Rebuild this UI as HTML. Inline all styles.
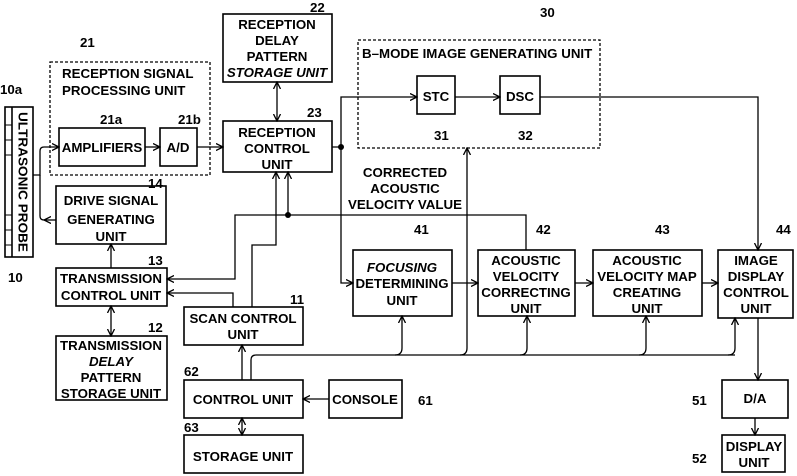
<!DOCTYPE html>
<html><head><style>body{margin:0;background:#fff}svg{display:block}text{font-family:"Liberation Sans",sans-serif;font-weight:bold;font-size:13.3px;fill:#000}</style></head><body>
<svg width="797" height="476" viewBox="0 0 797 476" xmlns="http://www.w3.org/2000/svg">
<defs><marker id="a" markerWidth="8" markerHeight="8" refX="7" refY="4" orient="auto-start-reverse" markerUnits="userSpaceOnUse"><path d="M0,0.5 L7,4 L0,7.5" fill="none" stroke="#000" stroke-width="1.3"/></marker></defs>
<g fill="none" stroke="#000" stroke-width="1.6">
<rect x="5" y="107" width="28" height="150"/><line x1="12" y1="107" x2="12" y2="257"/>
<g stroke-width="1"><line x1="5" y1="125" x2="12" y2="125"/><line x1="5" y1="140" x2="12" y2="140"/><line x1="5" y1="155" x2="12" y2="155"/><line x1="5" y1="215" x2="12" y2="215"/><line x1="5" y1="230" x2="12" y2="230"/><line x1="5" y1="245" x2="12" y2="245"/></g>
<rect x="50" y="62" width="160" height="113" stroke-dasharray="3,2" stroke-width="1.3"/>
<rect x="358" y="40" width="242" height="108" stroke-dasharray="3,2" stroke-width="1.3"/>
<rect x="59" y="128" width="86" height="38"/><rect x="160" y="128" width="37" height="38"/>
<rect x="223" y="14" width="109" height="68"/><rect x="223" y="121" width="109" height="51"/>
<rect x="56" y="186" width="110" height="58"/><rect x="56" y="268" width="111" height="38"/>
<rect x="56" y="336" width="111" height="64"/><rect x="184" y="307" width="119" height="38"/>
<rect x="184" y="380" width="119" height="38"/><rect x="184" y="435" width="119" height="38"/>
<rect x="329" y="380" width="73" height="38"/>
<rect x="417" y="76" width="38" height="38"/><rect x="500" y="76" width="40" height="38"/>
<rect x="353" y="250" width="99" height="66"/><rect x="478" y="250" width="97" height="66"/>
<rect x="593" y="250" width="109" height="66"/><rect x="718" y="250" width="75" height="68"/>
<rect x="722" y="380" width="66" height="38"/><rect x="722" y="435" width="63" height="37"/>
<g stroke-width="1.3">
<path d="M33,175 H40 V151 Q40,147 44,147 H59" marker-end="url(#a)"/>
<path d="M40,175 V216 Q40,220 44,220"/>
<line x1="56" y1="220" x2="44" y2="220" marker-end="url(#a)"/>
<line x1="145" y1="147" x2="160" y2="147" marker-end="url(#a)"/>
<line x1="197" y1="147" x2="223" y2="147" marker-end="url(#a)"/>
<line x1="277" y1="82" x2="277" y2="121" marker-start="url(#a)" marker-end="url(#a)"/>
<path d="M332,147 H341 V97 H417" marker-end="url(#a)"/>
<path d="M341,147 V283 H353" marker-end="url(#a)"/>
<line x1="455" y1="97" x2="500" y2="97" marker-end="url(#a)"/>
<path d="M540,97 H758 V250" marker-end="url(#a)"/>
<path d="M526,250 V215 H235 V279 H167" marker-end="url(#a)"/>
<line x1="288" y1="215" x2="288" y2="172" marker-end="url(#a)"/>
<path d="M252,307 V245 H276 V172" marker-end="url(#a)"/>
<path d="M233,307 V293 H167" marker-end="url(#a)"/>
<line x1="111" y1="268" x2="111" y2="244" marker-end="url(#a)"/>
<line x1="111" y1="306" x2="111" y2="336" marker-start="url(#a)" marker-end="url(#a)"/>
<line x1="242" y1="380" x2="242" y2="345" marker-end="url(#a)"/>
<path d="M251,380 V360 Q251,355 256,355 H735"/>
<path d="M395,355 Q402,355 402,348 V316" marker-end="url(#a)"/>
<path d="M460,355 Q467,355 467,348 V148" marker-end="url(#a)"/>
<path d="M520,355 Q527,355 527,348 V316" marker-end="url(#a)"/>
<path d="M639,355 Q646,355 646,348 V316" marker-end="url(#a)"/>
<path d="M728,355 Q735,355 735,348 V318" marker-end="url(#a)"/>
<line x1="329" y1="399" x2="303" y2="399" marker-end="url(#a)"/>
<line x1="242" y1="418" x2="242" y2="435" marker-start="url(#a)" marker-end="url(#a)"/>
<line x1="452" y1="283" x2="478" y2="283" marker-end="url(#a)"/>
<line x1="575" y1="283" x2="593" y2="283" marker-end="url(#a)"/>
<line x1="702" y1="283" x2="718" y2="283" marker-end="url(#a)"/>
<line x1="758" y1="318" x2="758" y2="380" marker-end="url(#a)"/>
<line x1="755" y1="418" x2="755" y2="435" marker-end="url(#a)"/>
</g></g>
<circle cx="341" cy="147" r="3"/><circle cx="288" cy="215" r="3"/>
<text x="22" y="182" text-anchor="middle" dominant-baseline="middle" transform="rotate(90 22 182)" font-size="14" textLength="140" lengthAdjust="spacingAndGlyphs">ULTRASONIC PROBE</text>
<text x="0" y="94">10a</text><text x="8" y="282">10</text>
<text x="80" y="47">21</text>
<text x="62" y="78">RECEPTION SIGNAL</text><text x="62" y="95">PROCESSING UNIT</text>
<text x="100" y="124">21a</text><text x="178" y="124">21b</text>
<text x="102" y="152" text-anchor="middle">AMPLIFIERS</text><text x="178" y="152" text-anchor="middle">A/D</text>
<g text-anchor="middle">
<text x="277" y="29">RECEPTION</text><text x="277" y="45">DELAY</text><text x="277" y="61">PATTERN</text><text x="277" y="77" font-style="italic">STORAGE UNIT</text>
<text x="277" y="137">RECEPTION</text><text x="277" y="153">CONTROL</text><text x="277" y="169">UNIT</text>
<text x="111" y="205">DRIVE SIGNAL</text><text x="111" y="224">GENERATING</text><text x="111" y="241">UNIT</text>
<text x="111" y="283">TRANSMISSION</text><text x="111" y="300">CONTROL UNIT</text>
<text x="111" y="350">TRANSMISSION</text><text x="111" y="366" font-style="italic">DELAY</text><text x="111" y="382">PATTERN</text><text x="111" y="398">STORAGE UNIT</text>
<text x="243" y="323">SCAN CONTROL</text><text x="243" y="339">UNIT</text>
<text x="243" y="404">CONTROL UNIT</text><text x="243" y="461">STORAGE UNIT</text>
<text x="365" y="404">CONSOLE</text>
<text x="436" y="101">STC</text><text x="520" y="101">DSC</text>
<text x="402" y="272" font-style="italic">FOCUSING</text><text x="402" y="288">DETERMINING</text><text x="402" y="305">UNIT</text>
<text x="526" y="265">ACOUSTIC</text><text x="526" y="281">VELOCITY</text><text x="526" y="297">CORRECTING</text><text x="526" y="313">UNIT</text>
<text x="647" y="265">ACOUSTIC</text><text x="647" y="281">VELOCITY MAP</text><text x="647" y="297">CREATING</text><text x="647" y="313">UNIT</text>
<text x="756" y="265">IMAGE</text><text x="756" y="281">DISPLAY</text><text x="756" y="297">CONTROL</text><text x="756" y="313">UNIT</text>
<text x="755" y="403">D/A</text><text x="754" y="451">DISPLAY</text><text x="754" y="467">UNIT</text>
<text x="405" y="177">CORRECTED</text><text x="405" y="193">ACOUSTIC</text><text x="405" y="209">VELOCITY VALUE</text>
</g>
<text x="362" y="58">B–MODE IMAGE GENERATING UNIT</text>
<text x="310" y="12">22</text><text x="307" y="117">23</text><text x="148" y="188">14</text>
<text x="148" y="265">13</text><text x="148" y="332">12</text><text x="290" y="304">11</text>
<text x="184" y="376">62</text><text x="184" y="432">63</text><text x="418" y="405">61</text>
<text x="540" y="17">30</text><text x="434" y="140">31</text><text x="518" y="140">32</text>
<text x="414" y="234">41</text><text x="536" y="234">42</text><text x="655" y="234">43</text><text x="776" y="234">44</text>
<text x="692" y="405">51</text><text x="692" y="463">52</text>
</svg>
</body></html>
